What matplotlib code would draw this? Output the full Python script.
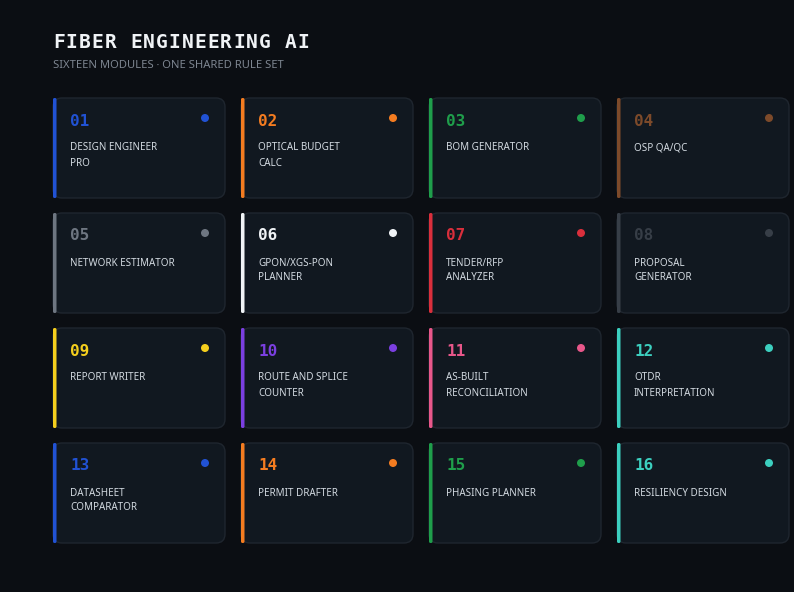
import matplotlib
matplotlib.use("Agg")
import matplotlib.pyplot as plt
from matplotlib.patches import FancyBboxPatch, Circle

W, H = 794, 592

title = "FIBER ENGINEERING AI"
subtitle = "SIXTEEN MODULES · ONE SHARED RULE SET"

numbers = ["01", "02", "03", "04", "05", "06", "07", "08",
           "09", "10", "11", "12", "13", "14", "15", "16"]
names = [
    ["DESIGN ENGINEER", "PRO"],
    ["OPTICAL BUDGET", "CALC"],
    ["BOM GENERATOR"],
    ["OSP QA/QC"],
    ["NETWORK ESTIMATOR"],
    ["GPON/XGS-PON", "PLANNER"],
    ["TENDER/RFP", "ANALYZER"],
    ["PROPOSAL", "GENERATOR"],
    ["REPORT WRITER"],
    ["ROUTE AND SPLICE", "COUNTER"],
    ["AS-BUILT", "RECONCILIATION"],
    ["OTDR", "INTERPRETATION"],
    ["DATASHEET", "COMPARATOR"],
    ["PERMIT DRAFTER"],
    ["PHASING PLANNER"],
    ["RESILIENCY DESIGN"],
]
accents = ["#2152d4", "#f47c20", "#1f9e4b", "#7d4a2a",
           "#6e7681", "#f0f3f6", "#da2f3c", "#373e47",
           "#f5cf1d", "#7b3fe0", "#e8578a", "#3ccfbf",
           "#2152d4", "#f47c20", "#1f9e4b", "#3ccfbf"]

BG = "#0b0e13"
CARD = "#111820"
EDGE = "#1f262f"
LABEL = "#d3dae1"

fig = plt.figure(figsize=(W / 100, H / 100), dpi=100, facecolor=BG)
ax = fig.add_axes([0, 0, 1, 1])
ax.set_xlim(0, W)
ax.set_ylim(H, 0)
ax.set_facecolor(BG)
ax.axis("off")

# title with letter spacing, one glyph at a time
for i, ch in enumerate(title):
    ax.text(53 + i * 12.85, 43, ch, fontsize=14, fontweight="bold",
            family="DejaVu Sans Mono", color="#f0f3f6", va="center", ha="left")
ax.text(53, 66, subtitle, fontsize=8.1, family="Noto Sans", color="#7d8590",
        va="center", ha="left")

card_w, card_h = 172, 100
x0, y0 = 53, 98
dx, dy = 188, 115

for k, (num, lines, col) in enumerate(zip(numbers, names, accents)):
    r, c = divmod(k, 4)
    x = x0 + c * dx
    y = y0 + r * dy
    card = FancyBboxPatch((x, y), card_w, card_h,
                          boxstyle="round,pad=0,rounding_size=9",
                          facecolor=CARD, edgecolor=EDGE, linewidth=1.0)
    ax.add_patch(card)
    ax.add_patch(FancyBboxPatch((x, y), 3.5, card_h,
                                boxstyle="round,pad=0,rounding_size=1.5",
                                facecolor=col, edgecolor="none"))
    ax.text(x + 17, y + 23, num, fontsize=11.5, fontweight="bold",
            family="DejaVu Sans Mono", color=col, va="center", ha="left")
    ax.add_patch(Circle((x + 152, y + 20), 4, facecolor=col, edgecolor="none"))
    for j, line in enumerate(lines):
        ax.text(x + 17, y + 50 + j * 15, line, fontsize=7.1, family="Noto Sans",
                color=LABEL, va="center", ha="left")

fig.savefig("out.png", dpi=100, facecolor=BG)
